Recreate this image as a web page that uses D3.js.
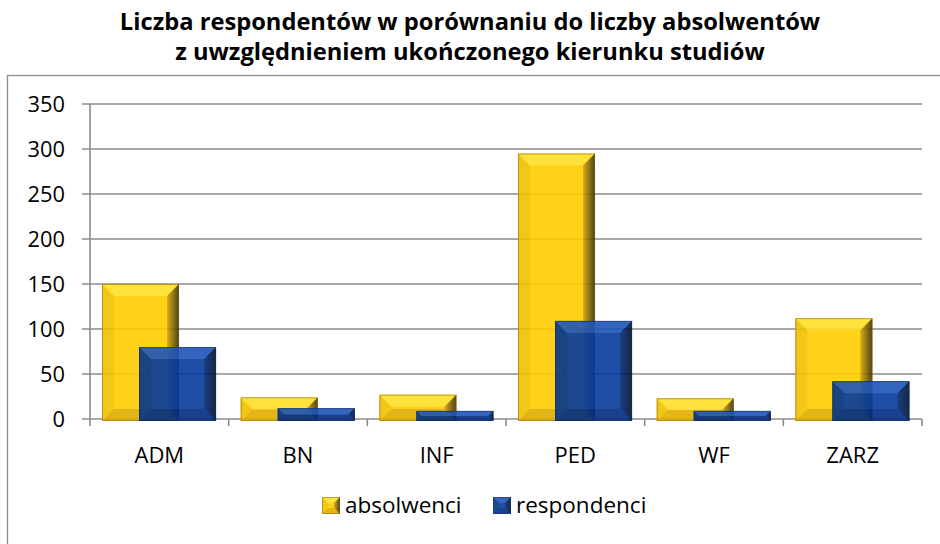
<!DOCTYPE html>
<html>
<head>
<meta charset="utf-8">
<script src="https://cdn.jsdelivr.net/npm/d3@7"></script>
<style>
  body { margin: 0; background: #fff; }
  svg { display: block; font-family: "Open Sans", "Noto Sans", sans-serif; }
</style>
</head>
<body>
<svg id="chart" width="940" height="544"></svg>
<script>
const categories = ["ADM", "BN", "INF", "PED", "WF", "ZARZ"];
const seriesNames = ["absolwenci", "respondenci"];
const absolwenci = [150, 24, 27, 295, 23, 112];
const respondenci = [80, 12, 9, 109, 9, 42];
const yTicks = [0, 50, 100, 150, 200, 250, 300, 350];
const titleLines = [
  "Liczba respondentów w porównaniu do liczby absolwentów",
  "z uwzględnieniem ukończonego kierunku studiów"
];

const svg = d3.select("#chart");
const width = 940, height = 544;

const margin = { left: 90, right: 18, top: 104, bottom: 125 };

// colours of the bevelled bars (drawn at 0.9 opacity)
const palette = {
  absolwenci: { face: "#ffcd00", top: "#ffdf27", left: "#f3c000", right0: "#d5a200", right1: "#3d2f00", bottom: "#e0ad00", edge: "#6a5400" },
  respondenci: { face: "#063b9c", top: "#1d55b9", left: "#02348d", right0: "#002a7b", right1: "#00102c", bottom: "#012d84", edge: "#051a40" }
};

const defs = svg.append("defs");
Object.keys(palette).forEach(k => {
  const gr = defs.append("linearGradient")
    .attr("id", "right-" + k)
    .attr("x1", 0).attr("x2", 1).attr("y1", 0).attr("y2", 0);
  gr.append("stop").attr("offset", 0).attr("stop-color", palette[k].right0);
  gr.append("stop").attr("offset", 1).attr("stop-color", palette[k].right1);
});

// outer frame
svg.append("rect")
  .attr("x", 7.5).attr("y", 75.5)
  .attr("width", 960).attr("height", 500)
  .attr("fill", "none")
  .attr("stroke", "#8c8c8c")
  .attr("stroke-width", 1.3);

// title
svg.append("g")
  .selectAll("text")
  .data(titleLines)
  .join("text")
  .attr("x", 470)
  .attr("y", (d, i) => 30 + i * 30)
  .attr("text-anchor", "middle")
  .attr("font-weight", "bold")
  .attr("font-size", 23.7)
  .attr("fill", "#000")
  .text(d => d);

const x0 = d3.scaleBand()
  .domain(categories)
  .range([margin.left, width - margin.right])
  .padding(0);

const bw = x0.bandwidth();
const barW = bw * 0.555;
const x1 = d3.scalePoint()
  .domain(seriesNames)
  .range([bw * 0.087, bw * 0.087 + bw * 0.267]);

const y = d3.scaleLinear()
  .domain([0, 350])
  .range([height - margin.bottom, margin.top]);

// grid lines
svg.append("g")
  .selectAll("line")
  .data(yTicks)
  .join("line")
  .attr("x1", margin.left - 8)
  .attr("x2", width - margin.right)
  .attr("y1", d => y(d))
  .attr("y2", d => y(d))
  .attr("stroke", "#8c8c8c")
  .attr("stroke-width", 1.6);

// y labels
svg.append("g")
  .selectAll("text")
  .data(yTicks)
  .join("text")
  .attr("x", 65)
  .attr("y", d => y(d))
  .attr("dy", "0.36em")
  .attr("text-anchor", "end")
  .attr("font-size", 21.8)
  .attr("fill", "#000")
  .text(d => d);

// y axis line
svg.append("line")
  .attr("x1", margin.left).attr("x2", margin.left)
  .attr("y1", y(350)).attr("y2", y(0) + 7)
  .attr("stroke", "#8c8c8c")
  .attr("stroke-width", 1.6);

// category tick marks
svg.append("g")
  .selectAll("line")
  .data(categories.slice(1).map(c => x0(c)).concat([x0.range()[1]]))
  .join("line")
  .attr("x1", d => d).attr("x2", d => d)
  .attr("y1", y(0)).attr("y2", y(0) + 7)
  .attr("stroke", "#8c8c8c")
  .attr("stroke-width", 1.6);

function bevelBar(g, x, yTop, w, h, key, b) {
  const c = palette[key];
  b = Math.min(b, h / 2, w / 2);
  const r = x + w, btm = yTop + h;
  g.append("rect").attr("x", x).attr("y", yTop).attr("width", w).attr("height", h).attr("fill", c.face);
  const poly = (pts, fill) => g.append("polygon")
    .attr("points", pts.map(p => p.join(",")).join(" "))
    .attr("fill", fill);
  poly([[x, yTop], [x + b, yTop + b], [x + b, btm - b], [x, btm]], c.left);
  poly([[x, btm], [r, btm], [r - b, btm - b], [x + b, btm - b]], c.bottom);
  poly([[x, yTop], [r, yTop], [r - b, yTop + b], [x + b, yTop + b]], c.top);
  poly([[r, yTop], [r, btm], [r - b, btm - b], [r - b, yTop + b]], "url(#right-" + key + ")");
  g.append("rect").attr("x", x + 0.5).attr("y", yTop + 0.5)
    .attr("width", Math.max(0, w - 1)).attr("height", Math.max(0, h - 1))
    .attr("fill", "none").attr("stroke", c.edge).attr("stroke-opacity", 0.5);
}

const data = [
  { name: "absolwenci", values: absolwenci },
  { name: "respondenci", values: respondenci }
];

data.forEach(s => {
  s.values.forEach((v, i) => {
    const g = svg.append("g").attr("opacity", 0.9);
    const bx = x0(categories[i]) + x1(s.name);
    bevelBar(g, bx, y(v), barW, y(0) - y(v) + 2, s.name, 12);
  });
});

// category labels
svg.append("g")
  .selectAll("text")
  .data(categories)
  .join("text")
  .attr("x", d => x0(d) + bw / 2)
  .attr("y", 463)
  .attr("text-anchor", "middle")
  .attr("font-size", 22)
  .attr("fill", "#000")
  .text(d => d);

// legend
const legendItems = [
  { name: "absolwenci", x: 322 },
  { name: "respondenci", x: 493 }
];
const lg = svg.append("g");
legendItems.forEach(it => {
  const g = lg.append("g").attr("opacity", 0.9);
  bevelBar(g, it.x, 497, 18, 17, it.name, 6);
  lg.append("text")
    .attr("x", it.x + 23)
    .attr("y", 513)
    .attr("font-size", 22.5)
    .attr("fill", "#000")
    .text(it.name);
});
</script>
</body>
</html>
